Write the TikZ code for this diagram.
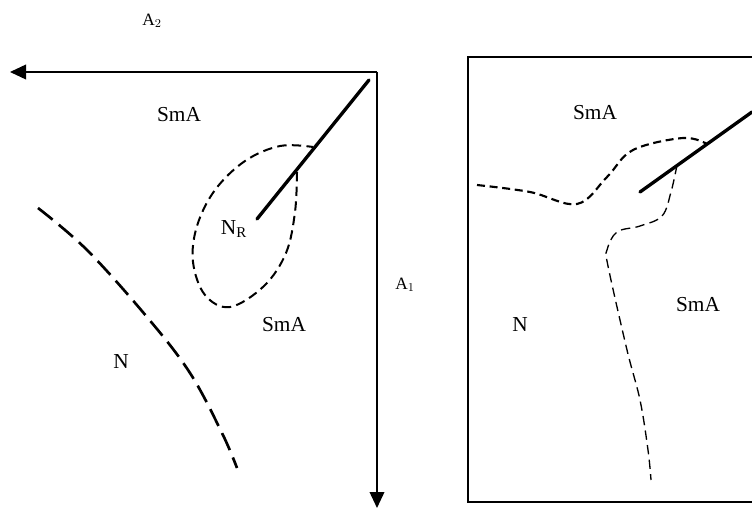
\documentclass[tikz,border=0pt]{standalone}
\usepackage{fontspec}
\setmainfont{Liberation Serif}
\usetikzlibrary{arrows.meta}

\begin{document}
\begin{tikzpicture}[
  x=0.75pt, y=-0.75pt,
  axis/.style={line width=1.2pt, -{Triangle[length=12pt, width=11pt]}},
  frame/.style={line width=1.1pt},
  director/.style={line width=2.5pt, line cap=round},
  wall/.style={line width=2pt, dash pattern=on 14pt off 6pt},
  loopline/.style={line width=1.5pt, dash pattern=on 7pt off 4pt},
  edgeline/.style={line width=1.6pt, dash pattern=on 6pt off 3.5pt},
  thinline/.style={line width=1pt, dash pattern=on 7pt off 4pt},
  phase/.style={font=\fontsize{16}{19}\selectfont},
  axlabel/.style={font=\fontsize{13}{16}\selectfont}
]
\useasboundingbox (0,0) rectangle (752,510);

% crossed polarisers
\coordinate (origin) at (377,72);
\coordinate (a2end) at (10,72);
\coordinate (a1end) at (377,508);
\draw[axis] (origin) -- (a2end);
\draw[axis] (origin) -- (a1end);
\node[axlabel] (a2) at (152,21) {A$_2$};
\node[axlabel] (a1) at (405,285) {A$_1$};

% left picture
\coordinate (ltop) at (369,80);
\coordinate (lend) at (257,219);
\draw[director] (ltop) -- (lend);
\draw[loopline] plot[smooth, tension=0.6] coordinates {(297,172) (295,212) (286,253) (264,286) (230,307) (205,295) (193,262) (197,226) (215,190) (245,161) (280,146) (313,147)};
\draw[wall] plot[smooth, tension=0.6] coordinates {(38,208) (87,250) (147,317) (190,373) (222,433) (237,468)};
\node[phase] (sma1) at (179,115) {SmA};
\node[phase] (nr) at (234,229) {N$_{\mathrm{R}}$};
\node[phase] (sma2) at (284,325) {SmA};
\node[phase] (n1) at (121,362) {N};

% right picture
\coordinate (bxtr) at (752,57);
\coordinate (bxtl) at (468,57);
\coordinate (bxbl) at (468,502);
\coordinate (bxbr) at (752,502);
\draw[frame] (bxtr) -- (bxtl) -- (bxbl) -- (bxbr);
\coordinate (rtop) at (752,112);
\coordinate (rend) at (640,192);
\draw[director] (rtop) -- (rend);
\draw[edgeline] plot[smooth, tension=0.6] coordinates {(477,185) (530,192) (577,204) (607,177) (633,150) (683,138) (707,144)};
\draw[thinline] plot[smooth, tension=0.6] coordinates {(677,165) (671,192) (662,216) (640,226) (617,232) (607,250) (608,266) (627,350) (640,400) (648,450) (651,480)};
\node[phase] (sma3) at (595,113) {SmA};
\node[phase] (n2) at (520,325) {N};
\node[phase] (sma4) at (698,305) {SmA};
\end{tikzpicture}
\end{document}
